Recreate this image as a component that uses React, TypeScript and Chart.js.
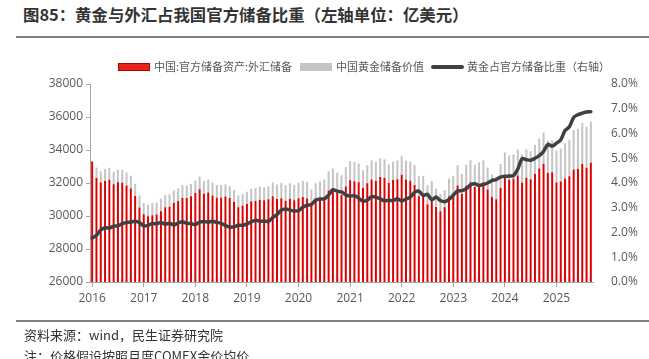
import React, { useEffect, useRef } from 'react';
import { Chart, registerables } from 'chart.js';

Chart.register(...registerables);

// Monthly categories (month-end data points), 2015-12 .. 2025-08
const months: string[] = [
  '2015-12',
  '2016-01', '2016-02', '2016-03', '2016-04', '2016-05', '2016-06', '2016-07', '2016-08', '2016-09', '2016-10', '2016-11', '2016-12',
  '2017-01', '2017-02', '2017-03', '2017-04', '2017-05', '2017-06', '2017-07', '2017-08', '2017-09', '2017-10', '2017-11', '2017-12',
  '2018-01', '2018-02', '2018-03', '2018-04', '2018-05', '2018-06', '2018-07', '2018-08', '2018-09', '2018-10', '2018-11', '2018-12',
  '2019-01', '2019-02', '2019-03', '2019-04', '2019-05', '2019-06', '2019-07', '2019-08', '2019-09', '2019-10', '2019-11', '2019-12',
  '2020-01', '2020-02', '2020-03', '2020-04', '2020-05', '2020-06', '2020-07', '2020-08', '2020-09', '2020-10', '2020-11', '2020-12',
  '2021-01', '2021-02', '2021-03', '2021-04', '2021-05', '2021-06', '2021-07', '2021-08', '2021-09', '2021-10', '2021-11', '2021-12',
  '2022-01', '2022-02', '2022-03', '2022-04', '2022-05', '2022-06', '2022-07', '2022-08', '2022-09', '2022-10', '2022-11', '2022-12',
  '2023-01', '2023-02', '2023-03', '2023-04', '2023-05', '2023-06', '2023-07', '2023-08', '2023-09', '2023-10', '2023-11', '2023-12',
  '2024-01', '2024-02', '2024-03', '2024-04', '2024-05', '2024-06', '2024-07', '2024-08', '2024-09', '2024-10', '2024-11', '2024-12',
  '2025-01', '2025-02', '2025-03', '2025-04', '2025-05', '2025-06', '2025-07', '2025-08',
];

const yearTicks: string[] = ['2016', '2017', '2018', '2019', '2020', '2021', '2022', '2023', '2024', '2025'];

// 中国:官方储备资产:外汇储备 (亿美元)
const fxReserves: number[] = [
  33304,
  32309, 32023, 32126, 32197, 31917, 32052, 32011, 31852, 31664, 31206, 30516, 30105,
  29982, 30051, 30091, 30295, 30536, 30568, 30807, 30915, 31085, 31092, 31193, 31399,
  31615, 31345, 31428, 31249, 31106, 31121, 31179, 31097, 30870, 30531, 30617, 30727,
  30879, 30902, 30988, 30950, 31010, 31192, 31037, 31072, 30924, 31052, 30956, 31079,
  31155, 31067, 30606, 30915, 31017, 31123, 31544, 31646, 31426, 31280, 31785, 32165,
  32107, 32050, 31700, 31982, 32218, 32140, 32359, 32321, 32006, 32176, 32224, 32502,
  32216, 32138, 31880, 31195, 31278, 30713, 31041, 30549, 30290, 30524, 31175, 31277,
  31845, 31332, 31839, 32048, 31765, 31930, 32043, 31601, 31151, 31012, 31718, 32380,
  32193, 32258, 32457, 32008, 32320, 32224, 32564, 32882, 33164, 32611, 32659, 32024,
  32090, 32272, 32407, 32817, 32853, 33174, 32922, 33222,
];

// 中国黄金储备价值 (亿美元)
const goldValue: (number | null)[] = [
  null,
  627, 690, 724, 722, 738, 748, 784, 789, 780, 749, 733, 682,
  706, 731, 729, 751, 738, 746, 733, 760, 779, 758, 759, 749,
  788, 788, 785, 791, 772, 759, 733, 712, 710, 720, 723, 745,
  774, 795, 788, 784, 785, 837, 875, 934, 946, 936, 921, 927,
  977, 1000, 997, 1065, 1081, 1090, 1156, 1234, 1204, 1190, 1168, 1165,
  1169, 1133, 1076, 1102, 1159, 1149, 1132, 1118, 1113, 1114, 1141, 1121,
  1138, 1163, 1220, 1213, 1158, 1151, 1086, 1106, 1053, 1043, 1100, 1162,
  1236, 1223, 1272, 1335, 1340, 1320, 1340, 1344, 1360, 1365, 1432, 1471,
  1470, 1477, 1580, 1711, 1714, 1701, 1747, 1805, 1886, 1958, 1933, 1942,
  1998, 2146, 2211, 2383, 2429, 2476, 2478, 2502,
];

// 黄金占官方储备比重 (%, 右轴)
const goldShare: number[] = [
  1.78,
  1.89, 2.10, 2.19, 2.18, 2.25, 2.27, 2.36, 2.40, 2.42, 2.45, 2.40, 2.27,
  2.29, 2.36, 2.35, 2.40, 2.34, 2.37, 2.31, 2.38, 2.43, 2.37, 2.36, 2.32,
  2.42, 2.44, 2.42, 2.45, 2.41, 2.37, 2.28, 2.22, 2.23, 2.29, 2.29, 2.35,
  2.43, 2.49, 2.46, 2.46, 2.45, 2.60, 2.72, 2.90, 2.95, 2.91, 2.87, 2.88,
  3.02, 3.10, 3.13, 3.31, 3.35, 3.36, 3.51, 3.73, 3.67, 3.64, 3.52, 3.47,
  3.49, 3.39, 3.26, 3.31, 3.45, 3.43, 3.36, 3.28, 3.30, 3.28, 3.36, 3.27,
  3.35, 3.43, 3.62, 3.67, 3.50, 3.54, 3.32, 3.43, 3.29, 3.24, 3.34, 3.51,
  3.67, 3.69, 3.77, 3.92, 3.97, 3.90, 3.94, 4.00, 4.10, 4.14, 4.24, 4.27,
  4.28, 4.30, 4.56, 4.98, 4.94, 4.92, 5.00, 5.11, 5.28, 5.56, 5.49, 5.61,
  5.75, 6.12, 6.27, 6.65, 6.76, 6.82, 6.87, 6.88,
];

const seriesNames = ['中国:官方储备资产:外汇储备', '中国黄金储备价值', '黄金占官方储备比重（右轴）'];

const RED = '#dd0000';
const GRAY = '#c4c4c4';
const LINE = '#404040';
const AXIS = '#a6a6a6';
const TICK_COLOR = '#595959';
const CJK = '"Noto Sans CJK SC", "Noto Sans", sans-serif';

export default function App() {
  const ref = useRef<HTMLCanvasElement>(null);

  useEffect(() => {
    const tickFont = { family: '"Open Sans", sans-serif', size: 12 };
    const chart = new Chart(ref.current as HTMLCanvasElement, {
      type: 'bar',
      data: {
        labels: months,
        datasets: [
          {
            type: 'line',
            label: seriesNames[2],
            data: goldShare,
            yAxisID: 'y1',
            borderColor: LINE,
            backgroundColor: LINE,
            borderWidth: 3.5,
            pointRadius: 0,
            tension: 0.3,
            borderCapStyle: 'round',
            borderJoinStyle: 'round',
            order: 0,
          } as any,
          {
            type: 'bar',
            label: seriesNames[0],
            data: fxReserves,
            yAxisID: 'y',
            backgroundColor: RED,
            stack: 'reserve',
            categoryPercentage: 1,
            barPercentage: 0.46,
            order: 1,
          },
          {
            type: 'bar',
            label: seriesNames[1],
            data: goldValue,
            yAxisID: 'y',
            backgroundColor: GRAY,
            stack: 'reserve',
            categoryPercentage: 1,
            barPercentage: 0.46,
            order: 1,
          },
        ],
      },
      options: {
        animation: false,
        responsive: false,
        maintainAspectRatio: false,
        layout: { padding: { top: 84, left: 0, right: 0, bottom: 0 } },
        plugins: {
          legend: { display: false },
          tooltip: { enabled: false },
        },
        scales: {
          x: {
            stacked: true,
            offset: true,
            grid: {
              display: true,
              drawOnChartArea: false,
              drawTicks: true,
              tickLength: 5,
              color: AXIS,
              offset: false,
            },
            border: { display: true, color: AXIS, width: 1 },
            ticks: {
              autoSkip: false,
              maxRotation: 0,
              minRotation: 0,
              padding: 4,
              color: TICK_COLOR,
              font: tickFont,
              callback: (value: any) => yearTicks[Math.round(Number(value) / 12)],
            },
            afterBuildTicks: (scale: any) => {
              scale.ticks = scale.ticks.filter((t: any) => t.value % 12 === 0);
            },
            afterFit: (scale: any) => {
              scale.height = 77;
            },
          },
          y: {
            type: 'linear',
            position: 'left',
            stacked: true,
            min: 26000,
            max: 38000,
            ticks: {
              stepSize: 2000,
              padding: 3,
              color: TICK_COLOR,
              font: tickFont,
              callback: (value: any) => String(value),
            },
            grid: {
              display: true,
              drawOnChartArea: false,
              drawTicks: true,
              tickLength: 4,
              color: AXIS,
            },
            border: { display: true, color: AXIS, width: 1 },
            afterFit: (scale: any) => {
              scale.width = 90;
            },
          },
          y1: {
            type: 'linear',
            position: 'right',
            min: 0,
            max: 8,
            ticks: {
              stepSize: 1,
              padding: 10,
              color: TICK_COLOR,
              font: tickFont,
              callback: (value: any) => Number(value).toFixed(1) + '%',
            },
            grid: { display: false, drawOnChartArea: false },
            border: { display: false },
            afterFit: (scale: any) => {
              scale.width = 56;
            },
          },
        },
      },
    });
    return () => chart.destroy();
  }, []);

  const legendText: React.CSSProperties = {
    position: 'absolute',
    top: 59,
    fontSize: 11,
    lineHeight: '15px',
    color: TICK_COLOR,
    whiteSpace: 'nowrap',
  };

  return (
    <div
      style={{
        position: 'absolute',
        left: 0,
        top: 0,
        width: 649,
        height: 359,
        overflow: 'hidden',
        background: '#ffffff',
        fontFamily: CJK,
      }}
    >
      <div
        style={{
          position: 'absolute',
          left: 23,
          top: 3,
          fontSize: 16.4,
          fontWeight: 700,
          lineHeight: '22px',
          color: '#333333',
          whiteSpace: 'nowrap',
        }}
      >
        图85：黄金与外汇占我国官方储备比重（左轴单位：亿美元）
      </div>
      <div style={{ position: 'absolute', left: 16, top: 36, width: 633, height: 2, background: '#7f7f7f' }} />

      <canvas ref={ref} width={649} height={359} style={{ position: 'absolute', left: 0, top: 0 }} />

      {/* legend */}
      <div
        style={{
          position: 'absolute',
          left: 118,
          top: 63,
          width: 30,
          height: 6,
          background: '#e5241b',
          border: '1px solid #b00000',
        }}
      />
      <div style={{ ...legendText, left: 154 }}>{seriesNames[0]}</div>
      <div style={{ position: 'absolute', left: 300, top: 63, width: 32, height: 8, background: GRAY }} />
      <div style={{ ...legendText, left: 336 }}>{seriesNames[1]}</div>
      <div
        style={{
          position: 'absolute',
          left: 431,
          top: 65,
          width: 33,
          height: 4,
          borderRadius: 2,
          background: LINE,
        }}
      />
      <div style={{ ...legendText, left: 467 }}>{seriesNames[2]}</div>

      <div style={{ position: 'absolute', left: 16, top: 320, width: 633, height: 2, background: '#7f7f7f' }} />
      <div
        style={{
          position: 'absolute',
          left: 24,
          top: 326,
          fontSize: 13,
          lineHeight: '18px',
          color: '#333333',
          whiteSpace: 'nowrap',
        }}
      >
        资料来源：wind，民生证券研究院
      </div>
      <div
        style={{
          position: 'absolute',
          left: 24,
          top: 347,
          fontSize: 13,
          lineHeight: '18px',
          color: '#333333',
          whiteSpace: 'nowrap',
        }}
      >
        注：价格假设按照月度COMEX金价均价
      </div>
    </div>
  );
}
